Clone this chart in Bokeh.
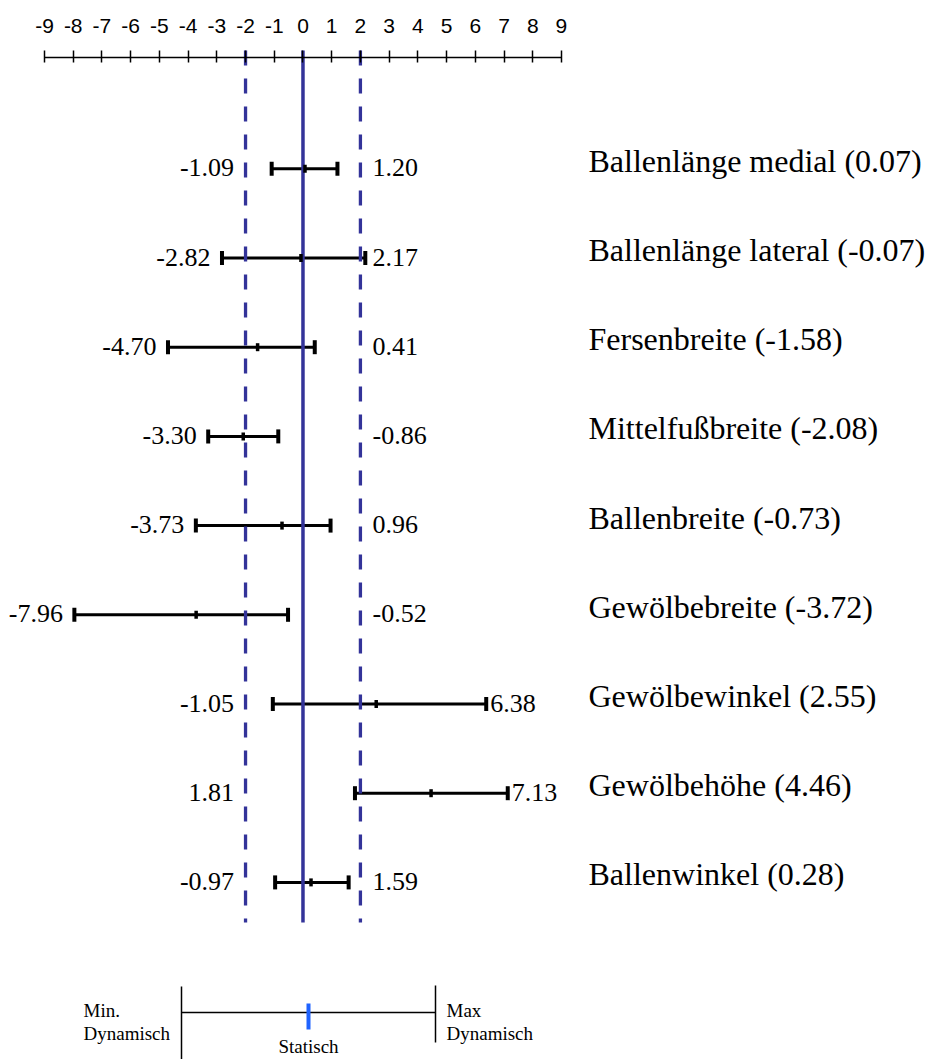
import numpy as np
from bokeh.plotting import figure
from bokeh.models import Range1d, FixedTicker, ColumnDataSource
from bokeh.layouts import column
from bokeh.embed import file_html
from bokeh.resources import INLINE
from bokeh.core.properties import value

# ---------------- data ----------------
categories = ["Ballenlänge medial", "Ballenlänge lateral", "Fersenbreite",
              "Mittelfußbreite", "Ballenbreite", "Gewölbebreite",
              "Gewölbewinkel", "Gewölbehöhe", "Ballenwinkel"]
means = [0.07, -0.07, -1.58, -2.08, -0.73, -3.72, 2.55, 4.46, 0.28]
lower = [-1.09, -2.82, -4.70, -3.30, -3.73, -7.96, -1.05, 1.81, -0.97]
upper = [1.20, 2.17, 0.41, -0.86, 0.96, -0.52, 6.38, 7.13, 1.59]
tick_values = list(range(-9, 10))
tick_labels = ["-9", "-8", "-7", "-6", "-5", "-4", "-3", "-2", "-1", "0",
               "1", "2", "3", "4", "5", "6", "7", "8", "9"]
limit_lines = [-2, 2]
center_line = [0]
legend_left = ["Min.", "Dynamisch"]
legend_right = ["Max", "Dynamisch"]
legend_center = ["Statisch"]

# ---------------- layout constants ----------------
W, H = 928, 968
PX_PER_UNIT = 28.72
X9_PX = 44.0          # figure px of x = -9
ROW0_PX = 168.3       # figure px of first row
ROW_PX = 89.2
SERIF = value("Liberation Serif")
BLUE = "#333399"

x_start = -9 - X9_PX / PX_PER_UNIT
x_end = x_start + W / PX_PER_UNIT
def yv(fig_px):
    return (fig_px - ROW0_PX) / ROW_PX
def xv(fig_px):
    return x_start + fig_px / PX_PER_UNIT

p = figure(width=W, height=H, x_range=Range1d(x_start, x_end),
           y_range=Range1d(yv(H), yv(0)), x_axis_location="above",
           y_axis_location=None, toolbar_location=None, output_backend="svg",
           min_border=0)
p.grid.visible = False
p.outline_line_color = None

ax = p.xaxis[0]
ax.fixed_location = yv(57)
ax.bounds = (tick_values[0], tick_values[-1])
ax.ticker = FixedTicker(ticks=tick_values)
ax.major_label_overrides = {v: s for v, s in zip(tick_values, tick_labels)}
ax.axis_line_color = "black"
ax.axis_line_width = 1.5
ax.major_tick_line_color = "black"
ax.major_tick_line_width = 1.5
ax.major_tick_in = 5
ax.major_tick_out = 7
ax.minor_tick_line_color = None
ax.major_label_text_font = "Liberation Sans"
ax.major_label_text_font_size = "21px"
ax.major_label_text_color = "black"
ax.major_label_standoff = 18

rows = np.arange(len(categories))
lo = np.array(lower)
hi = np.array(upper)
mu = np.array(means)

src = ColumnDataSource(dict(
    y=rows, lo=lo, hi=hi, mu=mu,
    lx=np.minimum(lo, limit_lines[0]) - 0.4,
    rx=np.maximum(hi + 0.14, limit_lines[1] + 0.42),
    ltxt=[f"{v:.2f}" for v in lower],
    rtxt=[f"{v:.2f}" for v in upper],
    ctxt=[f"{c} ({m:.2f})" for c, m in zip(categories, means)],
    cx=[xv(588)] * len(categories),
))

# bars
p.segment(x0="lo", y0="y", x1="hi", y1="y", source=src, line_color="black", line_width=3)

# reference lines
ytop_line = yv(50)
ybot_line = yv(922)
p.segment(x0=limit_lines, y0=[ytop_line] * 2, x1=limit_lines, y1=[ybot_line] * 2,
          line_color=BLUE, line_width=3.3, line_dash="15 13")
p.segment(x0=center_line, y0=[ytop_line], x1=center_line, y1=[ybot_line],
          line_color=BLUE, line_width=3.5)

# caps and mean ticks
p.rect(x="lo", y="y", width=4, height=14, width_units="screen", height_units="screen",
       source=src, fill_color="black", line_color=None)
p.rect(x="hi", y="y", width=4, height=14, width_units="screen", height_units="screen",
       source=src, fill_color="black", line_color=None)
p.rect(x="mu", y="y", width=3.5, height=8, width_units="screen", height_units="screen",
       source=src, fill_color="black", line_color=None)

# value labels
p.text(x="lx", y="y", text="ltxt", source=src, text_align="right", text_baseline="middle",
       text_font=SERIF, text_font_size="26px", text_color="black", y_offset=-1)
p.text(x="rx", y="y", text="rtxt", source=src, text_align="left", text_baseline="middle",
       text_font=SERIF, text_font_size="26px", text_color="black", y_offset=-1)
# category labels
p.text(x="cx", y="y", text="ctxt", source=src, text_align="left", text_baseline="middle",
       text_font=SERIF, text_font_size="32px", text_color="black", y_offset=-8)

# ---------------- legend figure ----------------
LH = 91
S = -10  # vertical shift of the legend sketch
lg = figure(width=W, height=LH, x_range=Range1d(0, W), y_range=Range1d(LH, 0),
            x_axis_location=None, y_axis_location=None, toolbar_location=None,
            output_backend="svg", min_border=0)
lg.grid.visible = False
lg.outline_line_color = None
lg.segment(x0=[181, 435, 181], y0=[28 + S, 27 + S, 54 + S], x1=[181, 435, 435],
           y1=[LH, 84 + S, 54 + S], line_color="black", line_width=1.5)
lg.segment(x0=[308], y0=[45 + S], x1=[308], y1=[71 + S], line_color="#1f63ff", line_width=4)
lg.text(x=[83, 83], y=[52 + S, 75 + S], text=legend_left, text_font=SERIF,
        text_font_size="19px", text_baseline="alphabetic", text_color="black")
lg.text(x=[446, 446], y=[52 + S, 75 + S], text=legend_right, text_font=SERIF,
        text_font_size="19px", text_baseline="alphabetic", text_color="black")
lg.text(x=[308], y=[78], text=legend_center, text_font=SERIF, text_align="center",
        text_font_size="19px", text_baseline="alphabetic", text_color="black")

layout = column(p, lg, spacing=0)
open("out.html", "w").write(file_html(layout, INLINE))
